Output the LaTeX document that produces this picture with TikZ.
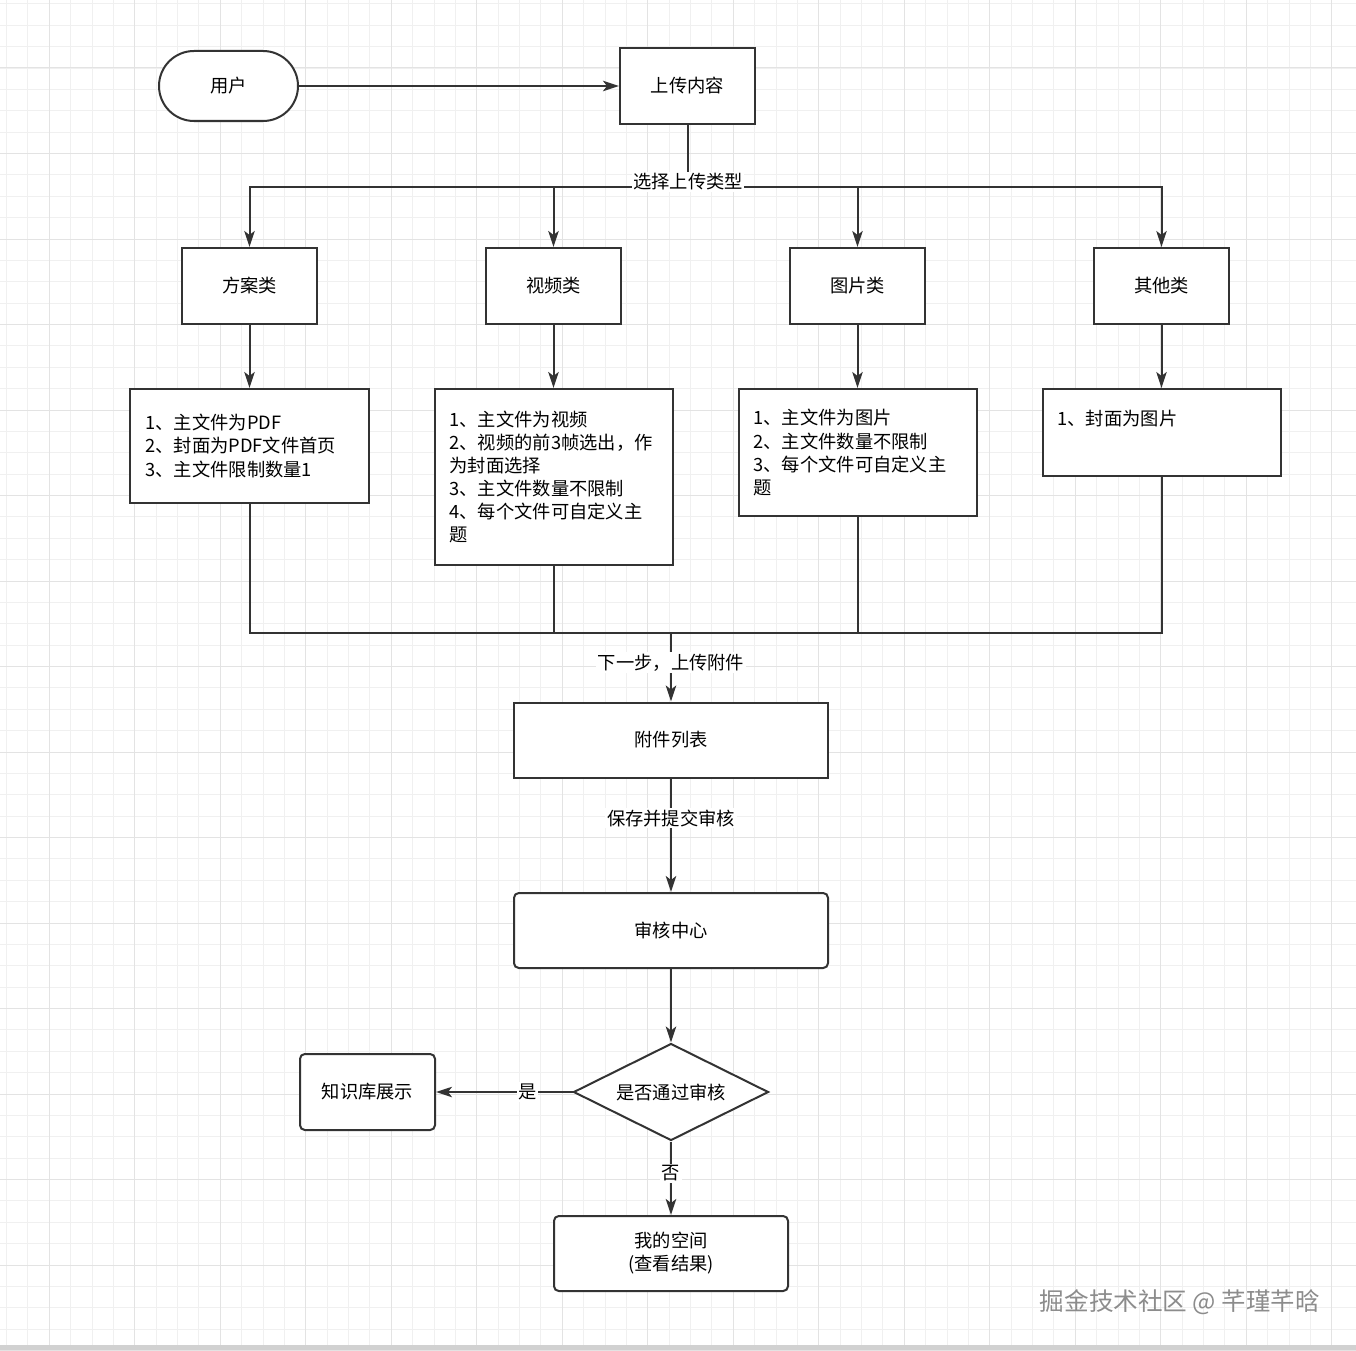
\documentclass[tikz,border=0pt]{standalone}
\usepackage{fontspec}
\setmainfont{Noto Sans CJK SC}
\usetikzlibrary{arrows.meta,shapes.geometric}
\usetikzlibrary{positioning}
\tikzset{arrowout/.style={-{Stealth[length=4mm,width=2.6mm,inset=1mm]},line width=0.5mm,draw=black!80},link/.style={line width=0.5mm,draw=black!80},box/.style={rectangle,draw=black!80,line width=0.5mm,fill=white,minimum width=33.75mm,minimum height=19mm,inner sep=0,text centered},detail/.style={rectangle,draw=black!80,line width=0.5mm,fill=white,text width=52mm,inner xsep=3.75mm,inner ysep=0,align=left},flowlabel/.style={fill=white,inner sep=0.4mm}}
\tikzstyle{roundbox}=[box,rounded corners=1.2mm]
\tikzstyle{decision}=[diamond,aspect=2,draw=black!80,line width=0.5mm,fill=white,minimum width=48.75mm,minimum height=24.25mm,inner sep=0]
\tikzstyle{gridminor}=[black!6,line width=0.25mm]
\tikzstyle{gridmajor}=[black!11,line width=0.25mm]
\usepackage{xcolor}

\begin{document}
\begin{tikzpicture}[x=0.25mm,y=-0.25mm,font=\fontsize{13pt}{16.4pt}\selectfont]

\useasboundingbox (0,0) rectangle (1356,1350);
\fill[white] (0,0) rectangle (1356,1350);

% background grid
\foreach \i in {0,...,62} {
  \draw[gridminor] ({6.55+21.375*\i},0) -- ({6.55+21.375*\i},1345);
  \draw[gridminor] (0,{3.9+21.375*\i}) -- (1356,{3.9+21.375*\i});
}
\foreach \i in {0,...,15} {
  \draw[gridmajor] ({49.3+85.5*\i},0) -- ({49.3+85.5*\i},1345);
  \draw[gridmajor] (0,{68+85.5*\i}) -- (1356,{68+85.5*\i});
}
\fill[black!18] (0,1345) rectangle (1356,1350);

\node (user) at (228.5,86)[box,minimum width=34.75mm,minimum height=17.5mm,rounded corners=8.75mm]{用户};
\node (upload) at (687.5,86)[box]{上传内容};
\draw[arrowout] (user) -- (upload);

% upload types
\node (plan) at (249.5,286)[box]{方案类};
\node (video) at (553.5,286)[box]{视频类};
\node (image) at (857.5,286)[box]{图片类};
\node (other) at (1161.5,286)[box]{其他类};

\coordinate (split) at (687.5,187);
\draw[link] (upload) -- (split);
\draw[arrowout] (split) -| (plan);
\draw[arrowout] (split) -| (video);
\draw[arrowout] (split) -| (image);
\draw[arrowout] (split) -| (other);
\node (splitlabel) at (688,182)[flowlabel]{选择上传类型};

\node (plannote) at (249.5,446)[detail,minimum height=28.5mm]{1、主文件为PDF\\2、封面为PDF文件首页\\3、主文件限制数量1};
\node (videonote) at (553.5,477)[detail,minimum height=44mm]{1、主文件为视频\\2、视频的前3帧选出，作\\为封面选择\\3、主文件数量不限制\\4、每个文件可自定义主\\题};
\node (imagenote) at (857.5,452.5)[detail,minimum height=31.75mm]{1、主文件为图片\\2、主文件数量不限制\\3、每个文件可自定义主\\题};
\node (othernote) at (1161.5,432.5)[detail,minimum height=21.75mm]{1、封面为图片\\\strut};

\draw[arrowout] (plan) -- (plannote);
\draw[arrowout] (video) -- (videonote);
\draw[arrowout] (image) -- (imagenote);
\draw[arrowout] (other) -- (othernote);

% attachments and review
\node (attach) at (671,740)[box,minimum width=78.5mm,minimum height=18.75mm]{附件列表};
\node (review) at (671,930.5)[roundbox,minimum width=78.5mm,minimum height=18.75mm]{审核中心};
\node (passed) at (671,1092)[decision]{是否通过审核};
\node (library) at (367.5,1092)[roundbox]{知识库展示};
\node (space) at (671,1253.5)[roundbox,minimum width=58.5mm,minimum height=18.75mm,align=center]{我的空间\\(查看结果)};

\coordinate (merge) at (671,633);
\draw[link] (plannote) |- (merge);
\draw[link] (videonote) |- (merge);
\draw[link] (imagenote) |- (merge);
\draw[link] (othernote) |- (merge);
\draw[arrowout] (merge) -- node[flowlabel,pos=0.43]{下一步，上传附件} (attach);

\draw[arrowout] (attach) -- node[flowlabel,pos=0.35]{保存并提交审核} (review);
\draw[arrowout] (review) -- (passed);
\draw[arrowout] (passed) -- node[flowlabel,pos=0.33]{是} (library);
\draw[arrowout] (passed) -- node[flowlabel,pos=0.43]{否} (space);

\node (mark) at (1180,1302)[font=\fontsize{17.5pt}{20pt}\selectfont,text=black!45]{掘金技术社区 @ 芊瑾芊晗};

\end{tikzpicture}
\end{document}
